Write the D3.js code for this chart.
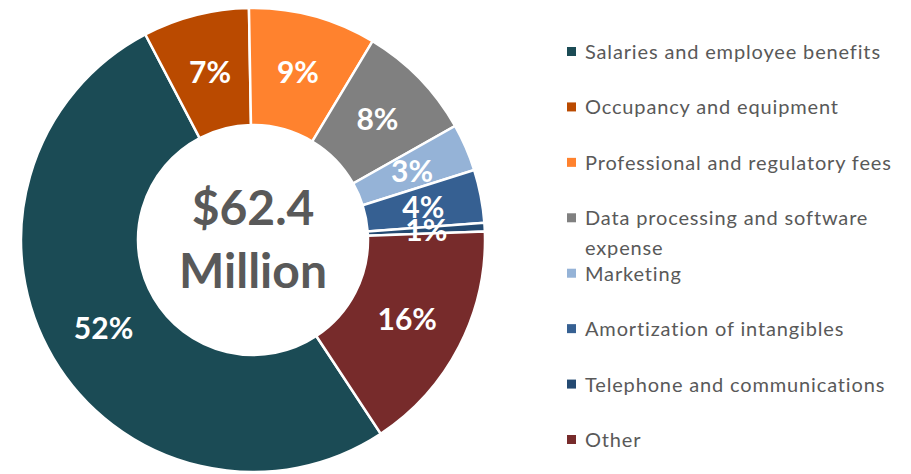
<!DOCTYPE html>
<html lang="en">
<head>
  <meta charset="UTF-8">
  <title>Expense breakdown</title>
  <style>
    body { margin: 0; background: #fff; }
    svg { display: block; }
  </style>
  <script src="https://d3js.org/d3.v7.min.js"></script>
</head>
<body>
  <script>
    var categories = ["Salaries and employee benefits", "Occupancy and equipment",
      "Professional and regulatory fees", "Data processing and software expense",
      "Marketing", "Amortization of intangibles", "Telephone and communications", "Other"];
    var values = [51.6, 7.4, 8.9, 8.2, 3.3, 3.7, 0.6, 16.3];
    var pctLabels = ["52%", "7%", "9%", "8%", "3%", "4%", "1%", "16%"];
    var colors = ["#1B4B55", "#BA4A00", "#FF822E", "#808080", "#95B3D7", "#366092", "#244A72", "#772B2B"];
    var legendLines = [["Salaries and employee benefits"], ["Occupancy and equipment"],
      ["Professional and regulatory fees"], ["Data processing and software", "expense"],
      ["Marketing"], ["Amortization of intangibles"], ["Telephone and communications"], ["Other"]];
    var centerText = ["$62.4", "Million"];

    var width = 911, height = 474;
    var cx = 253, cy = 240, outerR = 232, innerR = 115;

    var svg = d3.select("body").append("svg")
      .attr("width", width)
      .attr("height", height);

    var data = categories.map(function (c, i) {
      return { name: c, value: values[i], label: pctLabels[i], color: colors[i] };
    });

    var start = 146.6 * Math.PI / 180;
    var pie = d3.pie().sort(null).value(function (d) { return d.value; })
      .startAngle(start).endAngle(start + 2 * Math.PI);
    var arc = d3.arc().innerRadius(innerR).outerRadius(outerR);

    var g = svg.append("g").attr("transform", "translate(" + cx + "," + cy + ")");
    var arcs = pie(data);

    g.selectAll("path").data(arcs).enter().append("path")
      .attr("d", arc)
      .attr("fill", function (d) { return d.data.color; })
      .attr("stroke", "#fff")
      .attr("stroke-width", 2.5);

    g.selectAll("text.pct").data(arcs).enter().append("text")
      .attr("class", "pct")
      .attr("transform", function (d) { return "translate(" + arc.centroid(d) + ")"; })
      .attr("text-anchor", "middle")
      .attr("dy", "0.36em")
      .style("font-family", "Lato, sans-serif")
      .style("font-weight", "bold")
      .style("font-size", "30px")
      .attr("fill", "#fff")
      .text(function (d) { return d.data.label; });

    g.selectAll("text.center").data(centerText).enter().append("text")
      .attr("class", "center")
      .attr("text-anchor", "middle")
      .attr("y", function (d, i) { return i === 0 ? -15 : 48; })
      .style("font-family", "Lato, sans-serif")
      .style("font-weight", "bold")
      .style("font-size", "48px")
      .attr("fill", "#595959")
      .text(function (d) { return d; });

    // legend
    var ly = d3.scalePoint().domain(categories).range([59, 447]);
    var legend = svg.append("g");
    var items = legend.selectAll("g").data(data).enter().append("g")
      .attr("transform", function (d) { return "translate(0," + ly(d.name) + ")"; });

    items.append("rect")
      .attr("x", 567).attr("y", -12)
      .attr("width", 9).attr("height", 9)
      .attr("fill", function (d) { return d.color; });

    items.append("text")
      .attr("x", 585)
      .style("font-family", "Lato, sans-serif")
      .style("font-size", "20px")
      .style("letter-spacing", "0.85px")
      .attr("fill", "#595959")
      .selectAll("tspan")
      .data(function (d, i) { return legendLines[i]; })
      .enter().append("tspan")
      .attr("x", 585)
      .attr("y", function (d, i) { return i * 30; })
      .text(function (d) { return d; });
  </script>
</body>
</html>
